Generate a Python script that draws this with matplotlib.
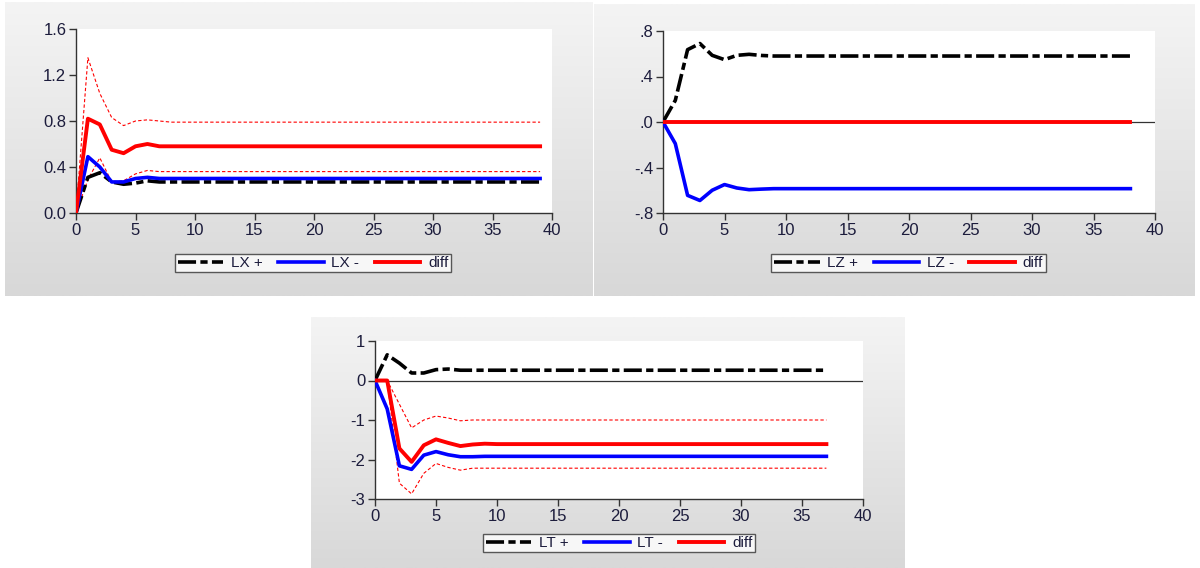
import numpy as np
import matplotlib
matplotlib.use("Agg")
import matplotlib.pyplot as plt

plt.rcParams['font.family'] = ['Liberation Sans', 'DejaVu Sans']

# panel 1 : LX
lx_pos = [0, 0.31, 0.35, 0.27, 0.25, 0.26, 0.28, 0.27] + [0.27] * 32
lx_neg = [0, 0.49, 0.40, 0.27, 0.27, 0.30, 0.31, 0.30] + [0.30] * 32
lx_diff = [0, 0.82, 0.77, 0.55, 0.52, 0.58, 0.60, 0.58] + [0.58] * 32
lx_up = [0, 1.35, 1.04, 0.83, 0.76, 0.80, 0.81, 0.80] + [0.79] * 32
lx_lo = [0, 0.29, 0.48, 0.27, 0.28, 0.34, 0.37, 0.36] + [0.36] * 32

# panel 2 : LZ
lz_pos = [0, 0.19, 0.636, 0.69, 0.586, 0.548, 0.586, 0.595, 0.585] + [0.58] * 30
lz_neg = [0, -0.19, -0.645, -0.69, -0.60, -0.55, -0.58, -0.595, -0.59] + [-0.586] * 30
lz_diff = [0] * 39

# panel 3 : LT
lt_pos = [0, 0.65, 0.44, 0.19, 0.19, 0.275, 0.29, 0.26] + [0.26] * 30
lt_neg = [0, -0.72, -2.16, -2.25, -1.89, -1.80, -1.88, -1.93, -1.93] + [-1.92] * 29
lt_diff = [0, 0, -1.72, -2.06, -1.64, -1.49, -1.58, -1.66, -1.62, -1.60] + [-1.61] * 28
lt_up = [0, 0, -0.6, -1.2, -1.0, -0.9, -0.95, -1.02] + [-1.0] * 30
lt_lo = [0, 0, -2.6, -2.87, -2.35, -2.1, -2.2, -2.27] + [-2.22] * 30

W, H = 1200, 568
fig = plt.figure(figsize=(12, 5.68), dpi=100)
fig.patch.set_facecolor('white')

grad = np.linspace(0, 1, 100).reshape(-1, 1)
gray = matplotlib.colors.LinearSegmentedColormap.from_list('g', ['#f4f4f4', '#d8d8d8'])


def box(x0, y0, x1, y1):
    return [x0 / W, 1 - y1 / H, (x1 - x0) / W, (y1 - y0) / H]


def background(x0, y0, x1, y1):
    bg = fig.add_axes(box(x0, y0, x1, y1), zorder=0)
    bg.imshow(grad, aspect='auto', cmap=gray, extent=[0, 1, 0, 1])
    bg.axis('off')


def panel(rect, ylim, yticks, ylabels, series, labels, zero, legrect):
    ax = fig.add_axes(box(*rect), zorder=1)
    ax.set_facecolor('white')
    pos, neg, diff, up, lo = series
    if zero:
        ax.axhline(0, color='#333333', lw=0.9, zorder=1)
    if up is not None:
        ax.plot(range(len(up)), up, color='red', lw=0.8, dashes=(3, 2), zorder=2)
        ax.plot(range(len(lo)), lo, color='red', lw=0.8, dashes=(3, 2), zorder=2)
    l1, = ax.plot(range(len(pos)), pos, color='black', lw=2.6, dashes=(5, 1.2, 2, 1.2), zorder=3)
    l2, = ax.plot(range(len(neg)), neg, color='blue', lw=2.6, zorder=4)
    l3, = ax.plot(range(len(diff)), diff, color='red', lw=2.8, zorder=5)
    ax.set_xlim(0, 40)
    ax.set_ylim(*ylim)
    ax.set_xticks(range(0, 41, 5))
    ax.set_yticks(yticks)
    ax.set_yticklabels(ylabels)
    for s in ['top', 'right']:
        ax.spines[s].set_visible(False)
    for s in ['left', 'bottom']:
        ax.spines[s].set_color('#333333')
        ax.spines[s].set_linewidth(1.0)
    ax.tick_params(direction='out', length=5, width=1, color='#333333',
                   labelsize=12, labelcolor='#1c1c3c', pad=2)
    lax = fig.add_axes(box(*legrect), zorder=2)
    lax.axis('off')
    leg = lax.legend([l1, l2, l3], labels, loc='center', ncol=3, frameon=True,
                     fancybox=False, edgecolor='#333333', fontsize=11,
                     handlelength=3.0, handletextpad=0.5, columnspacing=1.0,
                     borderpad=0.15, borderaxespad=0)
    leg.get_frame().set_linewidth(1.0)
    for t in leg.get_texts():
        t.set_color('#1c1c3c')
    return ax


background(5, 2, 593, 296)
background(594, 4, 1195, 296)
background(311, 317, 905, 568)

panel((76, 29, 552, 213), (0, 1.6), [0, 0.4, 0.8, 1.2, 1.6],
      ['0.0', '0.4', '0.8', '1.2', '1.6'],
      (lx_pos, lx_neg, lx_diff, lx_up, lx_lo), ['LX +', 'LX -', 'diff'], False,
      (179, 253, 447, 273))

panel((663, 31, 1155, 213), (-0.8, 0.8), [-0.8, -0.4, 0, 0.4, 0.8],
      ['-.8', '-.4', '.0', '.4', '.8'],
      (lz_pos, lz_neg, lz_diff, None, None), ['LZ +', 'LZ -', 'diff'], True,
      (772, 253, 1045, 273))

panel((375, 341, 863, 499), (-3, 1), [-3, -2, -1, 0, 1],
      ['-3', '-2', '-1', '0', '1'],
      (lt_pos, lt_neg, lt_diff, lt_up, lt_lo), ['LT +', 'LT -', 'diff'], True,
      (483, 534, 755, 552))

fig.savefig('out.png', dpi=100)
